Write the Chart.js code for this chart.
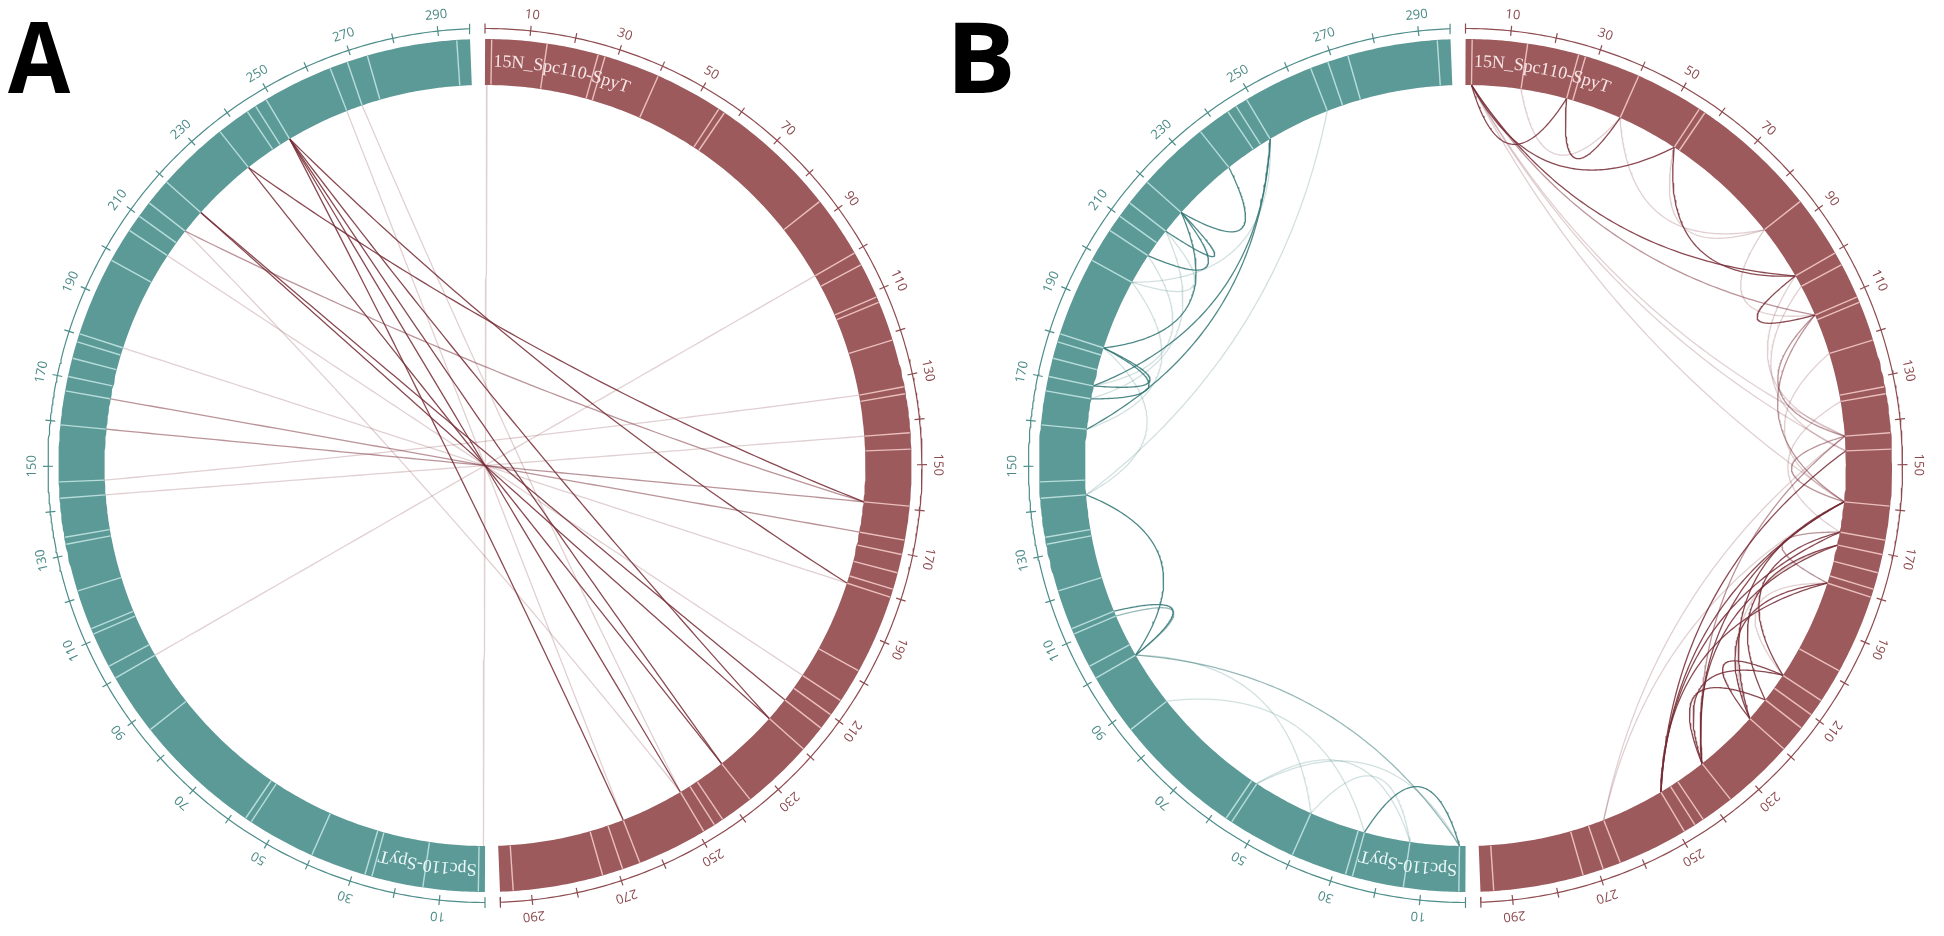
<!DOCTYPE html>
<html><head><meta charset="utf-8">
<script src="https://cdn.jsdelivr.net/npm/chart.js@4/dist/chart.umd.min.js"></script>
<style>
html,body{margin:0;padding:0;background:#fff;}
#wrap{position:relative;width:1944px;height:936px;}
canvas{display:block;}
</style></head><body>
<div id="wrap"><canvas id="c" width="1944" height="936"></canvas></div>
<script>
// ---------------- DATA ----------------
const MOLECULE_NAMES = ['15N_Spc110-SpyT', 'Spc110-SpyT'];
const PROTEIN_LENGTH = 297;
const TICK_VALUES = [0,10,20,30,40,50,60,70,80,90,100,110,120,130,140,150,160,170,180,190,200,210,220,230,240,250,260,270,280,290,297];
const TICK_LABELS = [10,30,50,70,90,110,130,150,170,190,210,230,250,270,290];
const DOMAIN_BOUNDARIES = [1.5,14,25.7,27.3,40,55.5,57,86.3,100.3,103.3,111.3,112.6,121.6,132.4,134,142.8,146.5,159.3,167,170.3,174.5,178.3,180.2,198.2,206,209.9,213.6,219.7,236.2,243.8,246,248.8,264.8,268.9,273.6,294];
// Panel A: inter-molecular links [position on 15N_Spc110-SpyT, position on Spc110-SpyT, strength]
const LINKS_A = [
  [0.5,0.5,'l'],[264.8,248.8,'d'],[248.8,248.8,'d'],[236.2,248.8,'d'],[219.7,248.8,'d'],[180.2,248.8,'d'],
  [236.2,236.2,'d'],[159.3,236.2,'d'],[219.7,219.7,'d'],[213.6,219.7,'d'],[159.3,213.6,'m'],[248.8,213.6,'l'],
  [180.2,180.2,'l'],[167,167,'m'],[159.3,159.3,'m'],[100.3,100.3,'l'],[142.8,142.8,'l'],[264.8,264.8,'l'],
  [248.8,268.9,'l'],[206,206,'l'],[132.4,146.5,'l']
];
// Panel B: intra-molecular links on 15N_Spc110-SpyT
const LINKS_B_RED = [
  [1.5,25.7,'d'],[25.7,40,'d'],[1.5,55.5,'d'],[55.5,100.3,'d'],[1.5,100.3,'d'],[100.3,111.3,'d'],[111.3,142.8,'m'],[142.8,159.3,'m'],
  [159.3,248.8,'d'],[159.3,236.2,'d'],[167,248.8,'d'],[170.3,236.2,'d'],[146.5,248.8,'d'],[142.8,236.2,'m'],[180.2,219.7,'d'],
  [206,219.7,'d'],[213.6,236.2,'d'],[206,236.2,'d'],[159.3,219.7,'d'],[167,206,'d'],[170.3,213.6,'d'],[180.2,248.8,'d'],[111.3,159.3,'m'],
  [14,40,'l'],[40,86.3,'l'],[55.5,86.3,'l'],[1.5,111.3,'m'],[1.5,142.8,'l'],[1.5,146.5,'l'],[86.3,111.3,'l'],[100.3,142.8,'l'],
  [142.8,264.8,'l'],[159.3,264.8,'l'],[167,180.2,'m'],[170.3,219.7,'l'],[1.5,159.3,'l'],[103.3,146.5,'l'],[180.2,206,'l'],[121.6,159.3,'l'],[134,167,'l']
];
// Panel B: intra-molecular links on Spc110-SpyT
const LINKS_B_TEAL = [
  [248.8,170.3,'d'],[248.8,159.3,'d'],[236.2,219.7,'d'],[219.7,213.6,'d'],[219.7,206,'d'],[219.7,180.2,'d'],[180.2,170.3,'d'],
  [180.2,167,'d'],[142.8,100.3,'d'],[112.6,100.3,'d'],[111.3,100.3,'m'],[25.7,1.5,'d'],[100.3,1.5,'m'],
  [213.6,198.2,'l'],[213.6,167,'l'],[206,170.3,'l'],[264.8,142.8,'l'],[100.3,40,'l'],[86.3,25.7,'l'],[55.5,14,'l'],
  [55.5,1.5,'l'],[40,14,'l'],[142.8,180.2,'l'],[198.2,159.3,'l'],[248.8,198.2,'l']
];

// ---------------- LAYOUT / STYLE ----------------
const PANELS = [{cx:485, cy:465.5, letter:'A', lx:8, sx:0.92}, {cx:1465.5, cy:465.5, letter:'B', lx:946, sx:1.06}];
const R_OUT = 426.5, R_IN = 380.5, R_MID = (R_OUT + R_IN) / 2, RING_W = R_OUT - R_IN;
const R_AXIS = 437, R_TICK0 = 432, R_TICK1 = 442, R_LABEL = 453;
const SPAN_DEG = 178;
const MOLS = [
  {start:0,   ring:'#9c5a5c', axis:'#8e4b50', label:'#8a474c', divider:'rgba(255,215,215,0.8)', name:'rgba(255,240,240,0.93)', link:[118,42,52]},
  {start:180, ring:'#5c9a97', axis:'#4d8d8a', label:'#4a8986', divider:'rgba(205,238,236,0.8)', name:'rgba(245,255,255,0.93)', link:[48,118,116]}
];
const LEVEL_ALPHA = {d:0.85, m:0.5, l:0.22};
const NAME_START = 2;

function angleOf(mi, pos){ return MOLS[mi].start + pos * SPAN_DEG / PROTEIN_LENGTH; }
function pt(p, deg, r){ const a = deg*Math.PI/180; return {x: p.cx + r*Math.sin(a), y: p.cy - r*Math.cos(a)}; }

const datasets = [];
function addLine(points, color, width, order){
  datasets.push({data: points, borderColor: color, backgroundColor: color, borderWidth: width, showLine: true,
    pointRadius: 0, pointHoverRadius: 0, fill: false, tension: 0, order: order, borderCapStyle: 'butt', borderJoinStyle: 'round'});
}
function arcPoints(p, d0, d1, r){
  const pts = []; const n = Math.max(2, Math.ceil((d1-d0)/0.5));
  for (let i=0;i<=n;i++){ pts.push(pt(p, d0 + (d1-d0)*i/n, r)); }
  return pts;
}
function linkPoints(p, a1, a2){
  let d = ((a2 - a1) % 360 + 360) % 360; if (d > 180) d -= 360;
  const mid = a1 + d/2; const delta = Math.abs(d)*Math.PI/180;
  const k = 0.72*Math.cos(delta/2);
  const P1 = pt(p,a1,R_IN), P2 = pt(p,a2,R_IN), C = pt(p,mid,R_IN*k);
  const pts = []; const N = 90;
  for (let i=0;i<=N;i++){ const t=i/N, u=1-t;
    pts.push({x: u*u*P1.x + 2*u*t*C.x + t*t*P2.x, y: u*u*P1.y + 2*u*t*C.y + t*t*P2.y}); }
  return pts;
}
function linkColor(mi, lvl){ const c = MOLS[mi].link; return `rgba(${c[0]},${c[1]},${c[2]},${LEVEL_ALPHA[lvl]})`; }

PANELS.forEach((p, pi) => {
  MOLS.forEach((m, mi) => {
    const a0 = angleOf(mi, 0), a1 = angleOf(mi, PROTEIN_LENGTH);
    addLine(arcPoints(p, a0, a1, R_MID), m.ring, RING_W, 5);
    DOMAIN_BOUNDARIES.forEach(b => { const a = angleOf(mi, b); addLine([pt(p,a,R_IN+0.5), pt(p,a,R_OUT-0.5)], m.divider, 1.4, 4); });
    addLine(arcPoints(p, a0, a1, R_AXIS), m.axis, 1.2, 4);
    TICK_VALUES.forEach(v => { const a = angleOf(mi, v); addLine([pt(p,a,R_TICK0), pt(p,a,R_TICK1)], m.axis, 1.2, 4); });
  });
});
function addLinks(p, list, mA, mB, colMol){
  list.forEach(l => {
    addLine(linkPoints(p, angleOf(mA, l[0]), angleOf(mB, l[1])), linkColor(colMol, l[2]), 1.3, l[2]==='d'?6:(l[2]==='m'?7:8));
  });
}
addLinks(PANELS[0], LINKS_A, 0, 1, 0);
addLinks(PANELS[1], LINKS_B_RED, 0, 0, 0);
addLinks(PANELS[1], LINKS_B_TEAL, 1, 1, 1);

const textPlugin = {
  id: 'circosText',
  afterDatasetsDraw(chart){
    const ctx = chart.ctx, xs = chart.scales.x, ys = chart.scales.y;
    PANELS.forEach(p => {
      MOLS.forEach((m, mi) => {
        ctx.save();
        ctx.fillStyle = m.label; ctx.font = '13px "Open Sans"'; ctx.textAlign = 'center'; ctx.textBaseline = 'middle';
        TICK_LABELS.forEach(v => {
          const deg = angleOf(mi, v); const q = pt(p, deg, R_LABEL);
          ctx.save(); ctx.translate(xs.getPixelForValue(q.x), ys.getPixelForValue(q.y)); ctx.rotate(deg*Math.PI/180);
          ctx.fillText(String(v), 0, 0); ctx.restore();
        });
        ctx.font = '18px "Liberation Serif"'; ctx.fillStyle = m.name;
        let deg = angleOf(mi, NAME_START);
        for (const ch of MOLECULE_NAMES[mi]) {
          const w = ctx.measureText(ch).width;
          const md = deg + (w/2)/R_MID*180/Math.PI; const q = pt(p, md, R_MID);
          ctx.save(); ctx.translate(xs.getPixelForValue(q.x), ys.getPixelForValue(q.y)); ctx.rotate(md*Math.PI/180);
          ctx.fillText(ch, 0, 0); ctx.restore();
          deg += w/R_MID*180/Math.PI;
        }
        ctx.restore();
      });
      ctx.save();
      ctx.font = 'bold 98px "Open Sans"'; ctx.fillStyle = '#000'; ctx.textAlign = 'left'; ctx.textBaseline = 'alphabetic';
      ctx.translate(p.lx, 93); ctx.scale(p.sx, 1);
      ctx.fillText(p.letter, 0, 0);
      ctx.restore();
    });
  }
};

new Chart(document.getElementById('c').getContext('2d'), {
  type: 'scatter',
  data: {datasets},
  options: {
    responsive: false, animation: false, events: [],
    layout: {padding: 0},
    plugins: {legend: {display: false}, tooltip: {enabled: false}},
    scales: {
      x: {type: 'linear', min: 0, max: 1944, display: false},
      y: {type: 'linear', min: 0, max: 936, reverse: true, display: false}
    }
  },
  plugins: [textPlugin]
});
</script>
</body></html>
